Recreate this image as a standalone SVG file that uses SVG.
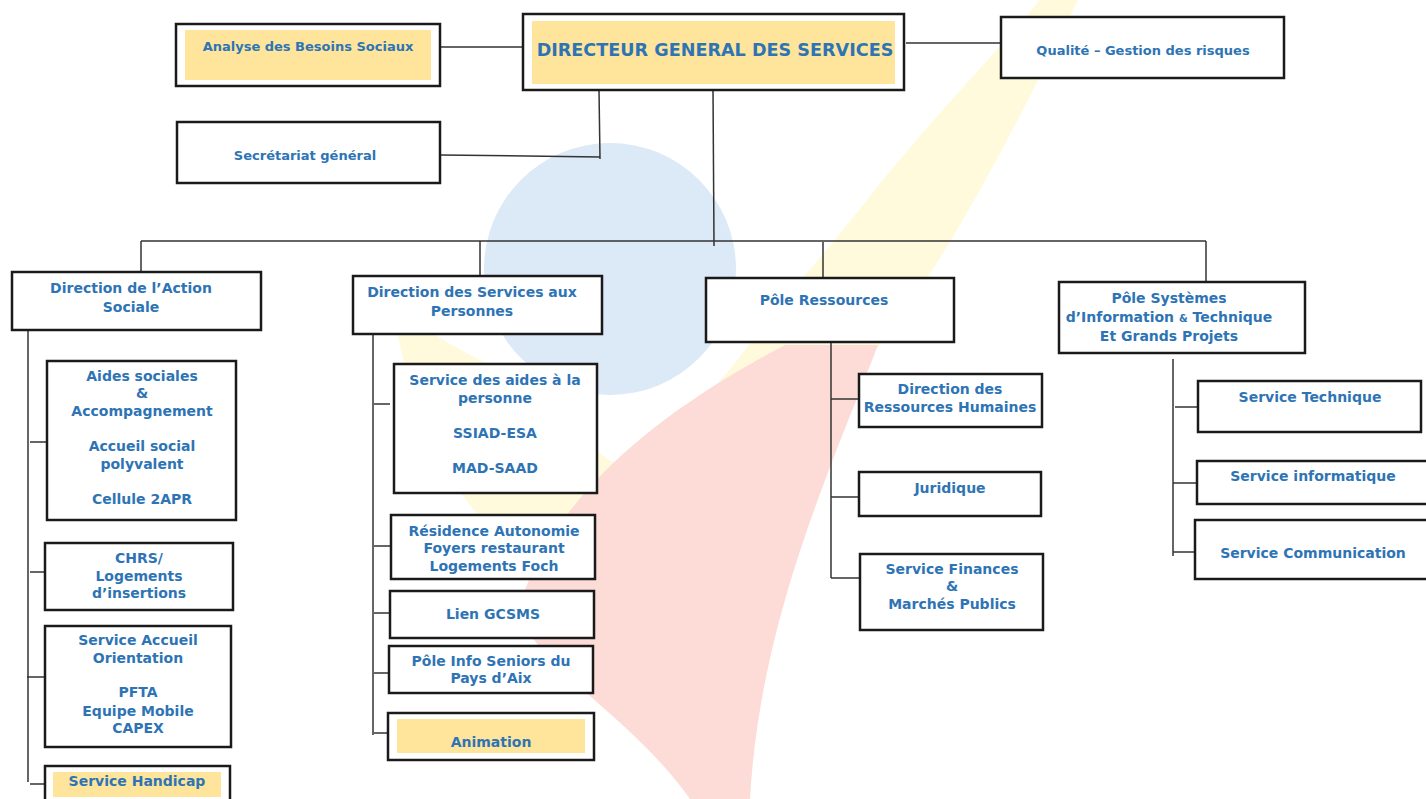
<svg xmlns="http://www.w3.org/2000/svg" width="1426" height="799" viewBox="0 0 1426 799">
<style>
.box{fill:#ffffff;stroke:#1a1a1a;stroke-width:2.5}
.hl{fill:#fee59b;stroke:none}
.t{font-family:"DejaVu Sans","Liberation Sans",sans-serif;font-weight:bold;font-size:14px;fill:#2e74b5;text-anchor:middle}
.c{fill:none;stroke:#333333;stroke-width:1.5}
</style>
<rect width="1426" height="799" fill="#ffffff"/>
<g id="background">
<path d="M1040 0 L1078 0 C1010 140 940 270 880 345 C820 420 740 490 650 535 C580 565 510 560 470 505 C430 455 405 390 392 300 C420 330 460 350 500 370 C540 395 580 440 612 462 C650 450 700 410 745 350 C790 290 820 260 867 200 C930 120 990 60 1040 0 Z" fill="#fffadb"/>
<circle cx="610" cy="269" r="126" fill="#dce9f6"/>
<path d="M878 345 C830 470 760 620 750 799 L690 799 C620 700 500 650 525 590 C570 470 700 390 785 345 Z" fill="#fddcd8"/>
</g>
<g id="connectors">
<line class="c" x1="440" y1="47" x2="523" y2="47"/>
<line class="c" x1="906" y1="43" x2="1002" y2="43"/>
<polyline class="c" points="599,90 600,159"/>
<line class="c" x1="441" y1="155" x2="600" y2="157"/>
<line class="c" x1="713" y1="90" x2="714" y2="246"/>
<line class="c" x1="141" y1="241" x2="1206" y2="241"/>
<line class="c" x1="141" y1="241" x2="141" y2="272"/>
<line class="c" x1="480" y1="241" x2="480" y2="276"/>
<line class="c" x1="823" y1="242" x2="823" y2="278"/>
<line class="c" x1="1206" y1="241" x2="1206" y2="282"/>
<line class="c" x1="28" y1="331" x2="28" y2="782"/>
<line class="c" x1="30" y1="442" x2="48" y2="442"/>
<line class="c" x1="30" y1="572" x2="46" y2="572"/>
<line class="c" x1="27" y1="677" x2="46" y2="677"/>
<line class="c" x1="30" y1="784" x2="46" y2="784"/>
<line class="c" x1="373" y1="334" x2="373" y2="735"/>
<line class="c" x1="374" y1="404" x2="390" y2="404"/>
<line class="c" x1="374" y1="546" x2="391" y2="546"/>
<line class="c" x1="374" y1="613" x2="390" y2="613"/>
<line class="c" x1="374" y1="673" x2="389" y2="673"/>
<line class="c" x1="374" y1="733" x2="388" y2="733"/>
<line class="c" x1="831" y1="342" x2="831" y2="578"/>
<line class="c" x1="831" y1="399" x2="858" y2="399"/>
<line class="c" x1="831" y1="497" x2="858" y2="497"/>
<line class="c" x1="831" y1="578" x2="860" y2="578"/>
<line class="c" x1="1173" y1="359" x2="1173" y2="556"/>
<line class="c" x1="1175" y1="407" x2="1198" y2="407"/>
<line class="c" x1="1173" y1="483" x2="1201" y2="483"/>
<line class="c" x1="1173" y1="552" x2="1198" y2="552"/>
</g>
<g id="n-analyse">
<rect class="box" x="176" y="24" width="264" height="62"/>
<rect class="hl" x="185" y="30" width="246" height="50"/>
<text class="t" x="308" y="51" style="font-size:13px">Analyse des Besoins Sociaux</text>
</g>
<g id="n-dgs">
<rect class="box" x="523" y="14" width="381" height="76"/>
<rect class="hl" x="532" y="21" width="363" height="63"/>
<text class="t" x="715" y="56" style="font-size:17.6px">DIRECTEUR GENERAL DES SERVICES</text>
</g>
<g id="n-qualite">
<rect class="box" x="1001" y="17" width="283" height="61"/>
<text class="t" x="1143" y="55" style="font-size:13px">Qualité – Gestion des risques</text>
</g>
<g id="n-secretariat">
<rect class="box" x="177" y="122" width="263" height="61"/>
<text class="t" x="305" y="160" style="font-size:13px">Secrétariat général</text>
</g>
<g id="n-das">
<rect class="box" x="12" y="272" width="249" height="58"/>
<text class="t" x="131" y="293">Direction de l’Action</text>
<text class="t" x="131" y="312">Sociale</text>
</g>
<g id="n-aides-sociales">
<rect class="box" x="47" y="361" width="189" height="159"/>
<text class="t" x="142" y="381">Aides sociales</text>
<text class="t" x="142" y="398">&amp;</text>
<text class="t" x="142" y="416">Accompagnement</text>
<text class="t" x="142" y="451">Accueil social</text>
<text class="t" x="142" y="469">polyvalent</text>
<text class="t" x="142" y="504">Cellule 2APR</text>
</g>
<g id="n-chrs">
<rect class="box" x="45" y="543" width="188" height="67"/>
<text class="t" x="139" y="563">CHRS/</text>
<text class="t" x="139" y="581">Logements</text>
<text class="t" x="139" y="598">d’insertions</text>
</g>
<g id="n-accueil">
<rect class="box" x="45" y="626" width="186" height="121"/>
<text class="t" x="138" y="645">Service Accueil</text>
<text class="t" x="138" y="663">Orientation</text>
<text class="t" x="138" y="697">PFTA</text>
<text class="t" x="138" y="716">Equipe Mobile</text>
<text class="t" x="138" y="733">CAPEX</text>
</g>
<g id="n-handicap">
<rect class="box" x="45" y="766" width="185" height="40"/>
<rect class="hl" x="53" y="772" width="168" height="25"/>
<text class="t" x="137" y="786">Service Handicap</text>
</g>
<g id="n-dsp">
<rect class="box" x="353" y="276" width="249" height="58"/>
<text class="t" x="472" y="297">Direction des Services aux</text>
<text class="t" x="472" y="316">Personnes</text>
</g>
<g id="n-aides-personne">
<rect class="box" x="394" y="364" width="203" height="129"/>
<text class="t" x="495" y="385">Service des aides à la</text>
<text class="t" x="495" y="403">personne</text>
<text class="t" x="495" y="438">SSIAD-ESA</text>
<text class="t" x="495" y="473">MAD-SAAD</text>
</g>
<g id="n-residence">
<rect class="box" x="391" y="515" width="204" height="64"/>
<text class="t" x="494" y="536">Résidence Autonomie</text>
<text class="t" x="494" y="553">Foyers restaurant</text>
<text class="t" x="494" y="571">Logements Foch</text>
</g>
<g id="n-gcsms">
<rect class="box" x="390" y="591" width="204" height="47"/>
<text class="t" x="493" y="619">Lien GCSMS</text>
</g>
<g id="n-seniors">
<rect class="box" x="389" y="646" width="204" height="47"/>
<text class="t" x="491" y="666">Pôle Info Seniors du</text>
<text class="t" x="491" y="683">Pays d’Aix</text>
</g>
<g id="n-animation">
<rect class="box" x="388" y="713" width="206" height="47"/>
<rect class="hl" x="397" y="719" width="188" height="34"/>
<text class="t" x="491" y="747">Animation</text>
</g>
<g id="n-ressources">
<rect class="box" x="706" y="278" width="248" height="64"/>
<text class="t" x="824" y="305">Pôle Ressources</text>
</g>
<g id="n-drh">
<rect class="box" x="859" y="374" width="183" height="53"/>
<text class="t" x="950" y="394">Direction des</text>
<text class="t" x="950" y="412">Ressources Humaines</text>
</g>
<g id="n-juridique">
<rect class="box" x="859" y="472" width="182" height="44"/>
<text class="t" x="950" y="493">Juridique</text>
</g>
<g id="n-finances">
<rect class="box" x="860" y="554" width="183" height="76"/>
<text class="t" x="952" y="574">Service Finances</text>
<text class="t" x="952" y="591">&amp;</text>
<text class="t" x="952" y="609">Marchés Publics</text>
</g>
<g id="n-psi">
<rect class="box" x="1059" y="282" width="246" height="71"/>
<text class="t" x="1169" y="303">Pôle Systèmes</text>
<text class="t" x="1169" y="322">d’Information <tspan style="font-size:10px">&amp;</tspan> Technique</text>
<text class="t" x="1169" y="341">Et Grands Projets</text>
</g>
<g id="n-technique">
<rect class="box" x="1198" y="381" width="223" height="51"/>
<text class="t" x="1310" y="402">Service Technique</text>
</g>
<g id="n-informatique">
<rect class="box" x="1197" y="461" width="235" height="43"/>
<text class="t" x="1313" y="481">Service informatique</text>
</g>
<g id="n-communication">
<rect class="box" x="1195" y="520" width="237" height="59"/>
<text class="t" x="1313" y="558">Service Communication</text>
</g>
</svg>
